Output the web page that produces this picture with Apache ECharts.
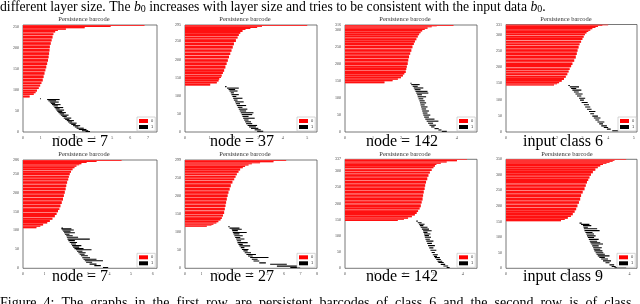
<!DOCTYPE html>
<html><head><meta charset="utf-8">
<script src="https://cdn.jsdelivr.net/npm/echarts@6/dist/echarts.min.js"></script>
<style>html,body{margin:0;padding:0;background:#fff}#c{width:640px;height:304px}</style>
</head><body><div id="c"></div>
<script>
// ---------- text ----------
const captions = ['node = 7','node = 37','node = 142','input class 6','node = 7','node = 27','node = 142','input class 9'];
const panelTitle = 'Persistence barcode';
const legendNames = ['0','1'];
const bottomWords = ['Figure','4:','The','graphs','in','the','first','row','are','persistent','barcodes','of','class','6','and','the','second','row','is','of','class'];
// ---------- axis ranges / ticks ----------
const xMax = [7.5,5.4,4.72,5.13,6.2,8,4.48,4.24];
const yMax = [254,295,316,331,286,299,337,350];
const xTickStep = 1;
const yTickStep = 50;
// ---------- H0 bars: [bar index, death] (birth = 0) ----------
const h0_p1 = [[82,0.37],[88,0.6],[92,0.7],[96,0.78],[102,0.88],[108,0.96],[114,1.03],[120,1.1],[128,1.15],[136,1.2],[144,1.25],[151,1.3],[159,1.35],[167,1.4],[175,1.43],[183,1.46],[191,1.48],[199,1.5],[207,1.55],[215,1.6],[222,1.65],[230,1.7],[236,1.8],[240,1.95],[243,2.4],[246,3.45],[249,4.9],[252,6.8]];
const h0_p2 = [[128,1.03],[134,1.3],[139,1.37],[144,1.4],[149,1.47],[153,1.5],[160,1.55],[166,1.6],[175,1.65],[185,1.7],[194,1.75],[203,1.8],[212,1.85],[221,1.9],[230,1.95],[239,2.0],[248,2.08],[258,2.15],[265,2.2],[271,2.26],[276,2.35],[281,2.47],[284,2.67],[287,2.95],[290,3.15],[293,5.0]];
const h0_p3 = [[144,1.41],[150,1.7],[154,1.89],[159,2.0],[164,2.07],[170,2.12],[174,2.17],[183,2.19],[190,2.21],[198,2.24],[208,2.26],[218,2.29],[228,2.33],[237,2.37],[247,2.41],[257,2.46],[264,2.5],[271,2.55],[279,2.6],[286,2.65],[292,2.7],[297,2.76],[301,2.85],[305,2.95],[309,3.1],[312,3.28],[314,3.88]];
const h0_p4 = [[143,1.88],[147,2.0],[150,2.08],[155,2.18],[160,2.27],[167,2.34],[175,2.4],[183,2.45],[191,2.49],[199,2.55],[206,2.6],[216,2.67],[226,2.73],[237,2.77],[247,2.8],[257,2.84],[267,2.88],[275,2.94],[283,2.99],[290,3.04],[298,3.09],[303,3.15],[308,3.22],[312,3.3],[316,3.38],[320,3.5],[323,3.6],[326,3.77],[329,4.0]];
const h0_p5 = [[106,0.62],[110,0.8],[113,0.93],[118,1.12],[122,1.24],[128,1.36],[135,1.47],[141,1.55],[148,1.62],[154,1.68],[161,1.73],[170,1.79],[179,1.85],[188,1.89],[197,1.93],[206,1.97],[215,2.0],[223,2.04],[232,2.09],[239,2.12],[246,2.16],[252,2.22],[259,2.29],[264,2.38],[268,2.47],[272,2.6],[275,2.7],[278,2.94],[281,3.4],[284,4.56]];
const h0_p6 = [[115,1.32],[118,1.6],[120,1.72],[124,1.9],[127,2.02],[132,2.15],[136,2.23],[143,2.3],[150,2.37],[160,2.41],[169,2.45],[178,2.49],[187,2.53],[197,2.58],[206,2.63],[215,2.7],[224,2.77],[234,2.87],[243,2.98],[250,3.06],[257,3.14],[264,3.24],[270,3.34],[276,3.5],[280,3.64],[284,3.85],[287,4.05],[290,4.55],[293,5.36],[296,6.13]];
const h0_p7 = [[146,1.79],[150,2.0],[153,2.14],[158,2.27],[163,2.37],[168,2.43],[174,2.48],[182,2.53],[189,2.57],[200,2.6],[210,2.63],[221,2.65],[231,2.67],[242,2.7],[252,2.72],[262,2.75],[272,2.79],[283,2.83],[293,2.88],[301,2.94],[309,3.0],[314,3.05],[319,3.1],[323,3.25],[327,3.45],[331,3.8],[335,4.14]];
const h0_p8 = [[151,1.78],[155,1.9],[159,2.0],[165,2.1],[170,2.16],[178,2.22],[186,2.27],[196,2.31],[207,2.36],[218,2.4],[229,2.43],[240,2.48],[251,2.54],[262,2.58],[272,2.62],[280,2.66],[288,2.7],[297,2.75],[305,2.81],[313,2.89],[321,2.97],[327,3.05],[332,3.14],[336,3.25],[339,3.35],[342,3.45],[345,3.51],[348,3.89]];
// ---------- H1 bars: [bar index, birth, death] ----------
const h1_p1 = [[79,0.95,1.0],[77,1.35,2.05],[74,1.42,1.85],[71,1.5,2.0],[68,1.56,1.8],[65,1.62,2.1],[62,1.7,1.95],[58,1.76,2.25],[55,1.82,2.05],[52,1.87,2.3],[49,1.92,2.2],[46,1.98,2.4],[43,2.05,2.3],[40,2.12,2.55],[37,2.2,2.45],[33,2.28,2.7],[30,2.36,2.6],[27,2.45,2.85],[24,2.52,2.75],[21,2.6,3.0],[18,2.7,2.95],[15,2.8,3.2],[12,2.9,3.1],[9,3.0,3.4],[6,3.12,3.55],[3,3.3,3.65],[1,3.5,3.75]];
const h1_p2 = [[125,1.64,1.7],[121,1.72,2.2],[117,1.78,2.05],[113,1.82,2.15],[108,1.87,2.0],[103,1.9,2.2],[98,1.94,2.1],[93,1.97,2.35],[88,2.0,2.15],[83,2.05,2.4],[78,2.08,2.25],[73,2.12,2.5],[68,2.16,2.35],[63,2.2,2.55],[58,2.24,2.5],[53,2.28,2.8],[48,2.32,2.75],[43,2.35,2.6],[38,2.38,2.85],[33,2.42,2.6],[28,2.46,2.7],[23,2.5,2.75],[18,2.56,2.95],[14,2.62,2.9],[10,2.7,3.0],[6,2.85,3.1],[2,2.95,3.2]];
const h1_p3 = [[144,2.34,2.38],[140,2.37,2.67],[135,2.42,2.6],[130,2.46,2.8],[125,2.49,2.7],[120,2.52,2.95],[115,2.55,2.98],[110,2.58,2.75],[104,2.6,2.9],[98,2.63,2.8],[92,2.66,2.85],[86,2.68,2.9],[80,2.7,2.85],[74,2.72,2.95],[68,2.74,2.9],[62,2.76,3.0],[56,2.78,2.95],[50,2.8,3.05],[44,2.83,3.0],[38,2.87,3.2],[32,2.92,3.34],[26,2.97,3.15],[20,3.02,3.25],[15,3.08,3.2],[10,3.2,3.35],[6,3.34,3.45],[2,3.46,3.64]];
const h1_p4 = [[143,2.44,2.5],[139,2.5,2.86],[134,2.55,2.75],[129,2.6,2.95],[123,2.66,2.85],[117,2.72,3.0],[111,2.78,2.95],[104,2.86,3.1],[98,2.9,3.05],[91,2.96,3.2],[84,3.05,3.25],[77,3.1,3.3],[70,3.17,3.35],[63,3.25,3.5],[56,3.3,3.45],[49,3.38,3.6],[43,3.44,3.7],[37,3.5,3.65],[31,3.58,3.85],[25,3.65,3.8],[19,3.73,3.95],[14,3.83,4.0],[9,3.95,4.1],[4,4.16,4.4]];
const h1_p5 = [[106,1.78,1.85],[104,1.78,2.24],[101,1.82,2.35],[98,1.86,2.2],[94,1.9,2.4],[90,1.94,2.15],[86,2.0,2.3],[82,2.03,2.55],[77,2.06,3.09],[73,2.1,2.4],[68,2.16,2.5],[64,2.22,2.45],[60,2.27,2.7],[56,2.32,2.6],[52,2.38,2.8],[49,2.45,3.17],[45,2.5,2.75],[41,2.56,2.9],[37,2.62,2.85],[33,2.68,3.0],[28,2.74,3.1],[24,2.8,3.4],[20,2.86,3.7],[16,2.92,3.2],[11,3.08,3.4],[7,3.3,3.6],[2,3.7,3.94]];
const h1_p6 = [[115,2.63,2.7],[111,2.7,3.3],[108,2.83,3.44],[104,2.86,3.2],[99,2.9,3.74],[95,2.94,3.3],[90,2.99,3.5],[85,3.04,3.35],[81,3.1,3.6],[76,3.14,3.4],[71,3.18,3.8],[66,3.24,3.5],[62,3.3,3.95],[57,3.38,3.6],[52,3.45,3.85],[48,3.54,3.8],[43,3.62,4.0],[38,3.72,4.3],[34,3.82,4.1],[30,3.95,5.06],[25,4.05,4.4],[20,4.15,4.5],[15,4.5,4.9],[11,5.16,6.17],[6,5.57,6.98],[2,6.38,6.98]];
const h1_p7 = [[146,2.42,2.47],[141,2.47,2.6],[136,2.51,2.7],[132,2.54,2.66],[127,2.57,2.8],[121,2.61,2.85],[116,2.65,2.94],[111,2.66,2.8],[106,2.68,2.9],[101,2.7,2.85],[96,2.71,2.92],[90,2.73,2.88],[84,2.76,3.0],[77,2.79,2.95],[70,2.82,3.05],[63,2.86,3.0],[56,2.9,3.1],[49,2.94,3.05],[42,2.98,3.15],[37,3.02,3.12],[33,3.05,3.22],[27,3.1,3.25],[22,3.14,3.3],[18,3.17,3.35],[12,3.25,3.4],[7,3.34,3.5],[2,3.45,3.55]];
const h1_p8 = [[145,2.38,2.45],[141,2.43,2.7],[137,2.49,2.76],[132,2.51,2.65],[127,2.52,2.95],[121,2.54,3.03],[115,2.57,2.8],[110,2.6,2.85],[104,2.62,2.9],[99,2.65,2.85],[93,2.68,3.0],[87,2.71,2.95],[82,2.73,3.05],[78,2.76,3.14],[72,2.79,3.0],[66,2.82,3.1],[61,2.84,3.05],[56,2.86,3.12],[50,2.9,3.15],[45,2.93,3.2],[40,2.97,3.35],[35,3.02,3.2],[30,3.08,3.3],[24,3.14,3.4],[18,3.22,3.35],[11,3.35,3.5],[6,3.42,3.55],[2,3.51,3.89]];

const H0 = [h0_p1,h0_p2,h0_p3,h0_p4,h0_p5,h0_p6,h0_p7,h0_p8];
const H1 = [h1_p1,h1_p2,h1_p3,h1_p4,h1_p5,h1_p6,h1_p7,h1_p8];

// ---------- layout (pixels) ----------
const boxes = [[23,25,134,107],[185,25,132,107],[345,25,132,107],[506,24.5,132,107.5],
               [23,160,134,108.3],[185,160,132,108.3],[345,159.3,132,109],[506,159.3,131,109]];
const captionX = [80,242,402,563,80,242,402,563];
const titleX = [84,245,405,566,84,245,405,567];

const serif = '"Liberation Serif","Times New Roman",serif';
const chart = echarts.init(document.getElementById('c'), null, {renderer:'canvas'});

const intFmt = v => Math.abs(v - Math.round(v)) < 1e-6 ? String(Math.round(v)) : '';

const grids = boxes.map(b => ({left:b[0], top:b[1], width:b[2], height:b[3], show:true,
  borderColor:'#555', borderWidth:0.8, backgroundColor:'#fff', containLabel:false}));
const xAxes = boxes.map((b,i) => ({type:'value', gridIndex:i, min:0, max:xMax[i], interval:xTickStep,
  axisLine:{show:false}, axisTick:{show:false}, splitLine:{show:false},
  axisLabel:{fontSize:4, color:'#444', margin:4, formatter:intFmt, fontFamily:serif}}));
const yAxes = boxes.map((b,i) => ({type:'value', gridIndex:i, min:0, max:yMax[i], interval:yTickStep,
  axisLine:{show:false}, axisTick:{show:false}, splitLine:{show:false},
  axisLabel:{fontSize:4, color:'#444', margin:4, formatter:intFmt, fontFamily:serif}}));

const series = [];
H0.forEach((arr,i) => {
  const data = arr.map((d,k) => [d[0], d[1], k+1 < arr.length ? arr[k+1][0] : Math.min(d[0]+2, yMax[i])]);
  series.push({type:'custom', name:legendNames[0], xAxisIndex:i, yAxisIndex:i, data,
    encode:{x:1, y:[0,2]}, itemStyle:{color:'#ff0000'}, clip:true, silent:true,
    renderItem:(p, api) => {
      const top = api.coord([0, api.value(2)]);
      const bot = api.coord([api.value(1), api.value(0)]);
      const h = bot[1] - top[1];
      const w = bot[0] - top[0];
      const gap = h > 2.5 ? 0.8 : 0;
      return {type:'group', children:[
        {type:'rect', shape:{x:top[0], y:top[1], width:w, height:h}, style:{fill:'#ff8f8f'}},
        {type:'rect', shape:{x:top[0], y:top[1]+gap, width:w, height:h-gap}, style:{fill:'#ff1010'}}
      ]};
    }});
});
H1.forEach((arr,i) => {
  series.push({type:'custom', name:legendNames[1], xAxisIndex:i, yAxisIndex:i, data:arr,
    encode:{x:[1,2], y:0}, itemStyle:{color:'#000000'}, clip:true, silent:true,
    renderItem:(p, api) => {
      const a = api.coord([api.value(1), api.value(0)]);
      const b = api.coord([api.value(2), api.value(0)]);
      return {type:'rect', shape:{x:a[0], y:a[1]-0.55, width:Math.max(b[0]-a[0],0.8), height:1.1}, style:{fill:'#000'}};
    }});
});

const legends = boxes.map(b => ({data:legendNames, orient:'vertical', icon:'rect',
  left:b[0]+b[2]-20, top:b[1]+b[3]-15, itemWidth:9, itemHeight:4, itemGap:2,
  padding:[2,2,2,2], borderColor:'#bbb', borderWidth:0.6, backgroundColor:'#fff',
  selectedMode:false, textStyle:{fontSize:4, color:'#333', padding:[0,0,0,-2]}}));

const graphics = [];
graphics.push({type:'text', x:0, y:-0.5, silent:true, style:{
  text:'different layer size. The {i|b}{s|0} increases with layer size and tries to be consistent with the input data {i|b}{s|0}.',
  font:'13.7px ' + serif, fill:'#000', lineHeight:15,
  rich:{i:{fontStyle:'italic', fontSize:13.7, fontFamily:serif, lineHeight:15},
        s:{fontSize:10, fontFamily:serif, verticalAlign:'bottom', lineHeight:15, padding:[4,0,0,0]}}}});
captions.forEach((c,i) => {
  graphics.push({type:'text', x:captionX[i], y: i < 4 ? 142 : 277, silent:true,
    style:{text:c, font:'16px ' + serif, fill:'#000', align:'center', verticalAlign:'middle'}});
  graphics.push({type:'text', x:titleX[i], y: i < 4 ? 19.5 : 154.5, silent:true,
    style:{text:panelTitle, font:'6.5px ' + serif, fill:'#333', align:'center', verticalAlign:'middle'}});
});
// justified caption line (wider word spacing, as in the source)
graphics.push({type:'text', x:0, y:303.7, silent:true, style:{
  text:bottomWords.join('\u2002'),
  font:'14px ' + serif, fill:'#000', verticalAlign:'middle'}});

chart.setOption({animation:false, backgroundColor:'#fff', grid:grids, xAxis:xAxes, yAxis:yAxes,
  legend:legends, series, graphic:graphics});
</script></body></html>
